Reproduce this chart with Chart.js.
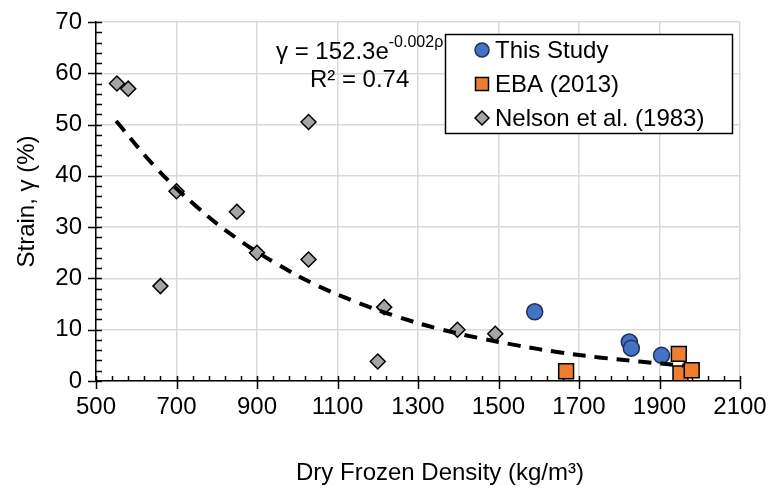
<!DOCTYPE html>
<html>
<head>
<meta charset="utf-8">
<script src="https://cdn.jsdelivr.net/npm/chart.js@4.4.1/dist/chart.umd.min.js"></script>
<style>
  html, body { margin: 0; padding: 0; background: #fff; }
  #wrap { width: 773px; height: 488px; }
</style>
</head>
<body>
<div id="wrap"><canvas id="chart" width="773" height="488"></canvas></div>
<script>
// values
const thisStudyX = [1590, 1825, 1830, 1905];
const thisStudyY = [13.5, 7.6, 6.4, 5.0];
const ebaX = [1668, 1948, 1952, 1980];
const ebaY = [1.9, 5.3, 1.5, 2.1];
const nelsonX = [552, 580, 660, 700, 850, 900, 1028, 1028, 1200, 1216, 1398, 1492];
const nelsonY = [58.0, 57.0, 18.5, 37.0, 33.0, 25.0, 50.5, 23.7, 3.8, 14.4, 10.0, 9.2];
// dashed trend line
const trendX = [550, 650, 750, 850, 950, 1050, 1150, 1250, 1350, 1450, 1550, 1650, 1750, 1850, 1960];
const trendY = [50.7, 41.5, 34.0, 27.8, 22.8, 18.6, 15.3, 12.5, 10.2, 8.4, 6.9, 5.6, 4.6, 3.8, 3.0];

const seriesNames = ['This Study', 'EBA (2013)', 'Nelson et al. (1983)'];
const xTitle = 'Dry Frozen Density (kg/m³)';
const yTitle = 'Strain, γ (%)';
const equation = ['γ = 152.3e', '-0.002ρ', 'R² = 0.74'];

const FONT = 'Arial, "Liberation Sans", sans-serif';
const pts = (xs, ys) => xs.map((x, i) => ({ x: x, y: ys[i] }));

// marker drawing for the legend
function marker(ctx, kind, x, y) {
  ctx.save();
  ctx.lineWidth = 1.5;
  ctx.beginPath();
  if (kind === 0) {
    ctx.fillStyle = '#4472C4'; ctx.strokeStyle = '#1F2F5A';
    ctx.arc(x, y, 7, 0, Math.PI * 2);
  } else if (kind === 1) {
    ctx.fillStyle = '#ED7D31'; ctx.strokeStyle = '#000';
    ctx.rect(x - 6.5, y - 6.5, 13, 13);
  } else {
    ctx.fillStyle = '#A5A5A5'; ctx.strokeStyle = '#000';
    ctx.moveTo(x, y - 7); ctx.lineTo(x + 7, y); ctx.lineTo(x, y + 7); ctx.lineTo(x - 7, y); ctx.closePath();
  }
  ctx.fill(); ctx.stroke();
  ctx.restore();
}

const extras = {
  id: 'extras',
  beforeDatasetsDraw(chart) {
    // axis tick marks: majors cross the axis, minors inside
    const ctx = chart.ctx, xs = chart.scales.x, ys = chart.scales.y;
    const area = chart.chartArea;
    ctx.save();
    ctx.strokeStyle = '#000';
    ctx.lineWidth = 1.5;
    ctx.beginPath();
    for (let v = 500; v <= 2100; v += 40) {
      const px = Math.round(xs.getPixelForValue(v)) + 0.5;
      const major = (v - 500) % 200 === 0;
      ctx.moveTo(px, area.bottom - 5);
      ctx.lineTo(px, area.bottom + (major ? 8 : 0));
    }
    for (let v = 0; v <= 70; v += 2) {
      const py = Math.round(ys.getPixelForValue(v)) + 0.5;
      const major = v % 10 === 0;
      ctx.moveTo(area.left - (major ? 8 : 0), py);
      ctx.lineTo(area.left + 6, py);
    }
    ctx.stroke();
    ctx.restore();
  },
  afterDraw(chart) {
    const ctx = chart.ctx;
    ctx.save();
    ctx.fillStyle = '#000';
    ctx.textBaseline = 'middle';
    // x axis title
    ctx.font = '24px ' + FONT;
    ctx.textAlign = 'center';
    ctx.fillText(xTitle, 440, 473);
    // trend equation, two centred lines
    ctx.textAlign = 'left';
    ctx.font = '24px ' + FONT;
    const w1 = ctx.measureText(equation[0]).width;
    const w3 = ctx.measureText(equation[2]).width;
    ctx.font = '16px ' + FONT;
    const w2 = ctx.measureText(equation[1]).width;
    const cx = 276 + (w1 + w2) / 2;
    ctx.font = '24px ' + FONT;
    ctx.fillText(equation[0], 276, 52);
    ctx.fillText(equation[2], cx - w3 / 2, 80);
    ctx.font = '16px ' + FONT;
    ctx.fillText(equation[1], 276 + w1, 43);
    // legend box
    ctx.fillStyle = '#fff';
    ctx.fillRect(445, 34, 288, 100);
    ctx.strokeStyle = '#000';
    ctx.lineWidth = 1.5;
    ctx.strokeRect(445.5, 34.5, 287, 99);
    const rows = [50, 84, 118];
    ctx.font = '24px ' + FONT;
    seriesNames.forEach((name, i) => {
      marker(ctx, i, 482, rows[i]);
      ctx.fillStyle = '#000';
      ctx.fillText(name, 495, rows[i] + 1);
    });
    ctx.restore();
  }
};

const tickFont = { family: FONT, size: 24 };
const plain = v => String(v);

new Chart(document.getElementById('chart'), {
  type: 'scatter',
  data: {
    datasets: [
      {
        type: 'line', label: 'trend', data: pts(trendX, trendY),
        borderColor: '#000', borderWidth: 4, borderDash: [13, 9],
        pointRadius: 0, tension: 0.4, fill: false, order: 0
      },
      {
        label: seriesNames[0], data: pts(thisStudyX, thisStudyY),
        pointStyle: 'circle', pointRadius: 8, pointBackgroundColor: '#4472C4',
        pointBorderColor: '#1F2F5A', pointBorderWidth: 1.5, order: 1
      },
      {
        label: seriesNames[1], data: pts(ebaX, ebaY),
        pointStyle: 'rect', pointRadius: 10.5, pointBackgroundColor: '#ED7D31',
        pointBorderColor: '#000', pointBorderWidth: 1.5, order: 2
      },
      {
        label: seriesNames[2], data: pts(nelsonX, nelsonY),
        pointStyle: 'rectRot', pointRadius: 7.5, pointBackgroundColor: '#A5A5A5',
        pointBorderColor: '#000', pointBorderWidth: 1.5, order: 3
      }
    ]
  },
  options: {
    responsive: false,
    animation: false,
    layout: { padding: { left: 0, right: 33, top: 22, bottom: 0 } },
    plugins: { legend: { display: false }, tooltip: { enabled: false } },
    scales: {
      x: {
        type: 'linear', min: 500, max: 2100,
        ticks: { stepSize: 200, color: '#000', font: tickFont, padding: 12, maxRotation: 0, callback: plain },
        grid: { color: '#D9D9D9', lineWidth: 1.5, drawTicks: false },
        border: { color: '#000', width: 1.5 },
        afterFit(s) { s.height = 107; s.paddingLeft = 0; s.paddingRight = 0; }
      },
      y: {
        min: 0, max: 70,
        ticks: { stepSize: 10, color: '#000', font: tickFont, padding: 14, callback: plain },
        grid: { color: '#D9D9D9', lineWidth: 1.5, drawTicks: false },
        border: { color: '#000', width: 1.5 },
        title: { display: true, text: yTitle, color: '#000', font: { family: FONT, size: 24 }, padding: { top: 13 } },
        afterFit(s) { s.width = 96; s.paddingTop = 0; s.paddingBottom = 0; }
      }
    }
  },
  plugins: [extras]
});
</script>
</body>
</html>
